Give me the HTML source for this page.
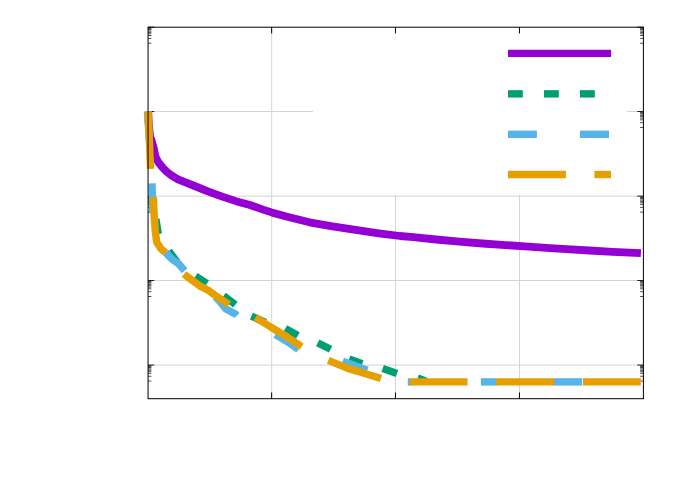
<!DOCTYPE html>
<html><head><meta charset="utf-8"><title>plot</title>
<style>html,body{margin:0;padding:0;background:#fff;font-family:"Liberation Sans",sans-serif}svg{position:absolute;left:0;top:0}</style></head>
<body>
<svg width="692" height="485" viewBox="0 0 692 485" style="display:block">
<rect width="692" height="485" fill="#fff"/>
<line x1="271.7" y1="27.2" x2="271.7" y2="398.7" stroke="#d4d4d4" stroke-width="1"/>
<line x1="395.5" y1="27.2" x2="395.5" y2="398.7" stroke="#d4d4d4" stroke-width="1"/>
<line x1="519.5" y1="27.2" x2="519.5" y2="398.7" stroke="#d4d4d4" stroke-width="1"/>
<line x1="148.05" y1="111.5" x2="643.4" y2="111.5" stroke="#d4d4d4" stroke-width="1"/>
<line x1="148.05" y1="196.15" x2="643.4" y2="196.15" stroke="#d4d4d4" stroke-width="1"/>
<line x1="148.05" y1="280.5" x2="643.4" y2="280.5" stroke="#d4d4d4" stroke-width="1"/>
<line x1="148.05" y1="365.05" x2="643.4" y2="365.05" stroke="#d4d4d4" stroke-width="1"/>
<rect x="313" y="28.2" width="314.2" height="166.3" fill="#fff"/>
<g stroke="#000" stroke-width="1" fill="none">
<line x1="271.65" y1="398.7" x2="271.65" y2="392.5"/>
<line x1="271.65" y1="27.2" x2="271.65" y2="33.4"/>
<line x1="395.45" y1="398.7" x2="395.45" y2="392.5"/>
<line x1="395.45" y1="27.2" x2="395.45" y2="33.4"/>
<line x1="519.45" y1="398.7" x2="519.45" y2="392.5"/>
<line x1="519.45" y1="27.2" x2="519.45" y2="33.4"/>
<line x1="148.05" y1="27.2" x2="154.25" y2="27.2" stroke-width="0.85"/>
<line x1="643.4" y1="27.2" x2="637.1999999999999" y2="27.2" stroke-width="0.85"/>
<line x1="148.05" y1="43.20" x2="151.35000000000002" y2="43.20" stroke-width="0.7"/>
<line x1="643.4" y1="43.20" x2="640.1" y2="43.20" stroke-width="0.7"/>
<line x1="148.05" y1="38.40" x2="151.35000000000002" y2="38.40" stroke-width="0.7"/>
<line x1="643.4" y1="38.40" x2="640.1" y2="38.40" stroke-width="0.7"/>
<line x1="148.05" y1="35.50" x2="151.35000000000002" y2="35.50" stroke-width="0.7"/>
<line x1="643.4" y1="35.50" x2="640.1" y2="35.50" stroke-width="0.7"/>
<line x1="148.05" y1="33.80" x2="151.35000000000002" y2="33.80" stroke-width="0.7"/>
<line x1="643.4" y1="33.80" x2="640.1" y2="33.80" stroke-width="0.7"/>
<line x1="148.05" y1="32.40" x2="151.35000000000002" y2="32.40" stroke-width="0.7"/>
<line x1="643.4" y1="32.40" x2="640.1" y2="32.40" stroke-width="0.7"/>
<line x1="148.05" y1="31.10" x2="151.35000000000002" y2="31.10" stroke-width="0.7"/>
<line x1="643.4" y1="31.10" x2="640.1" y2="31.10" stroke-width="0.7"/>
<line x1="148.05" y1="29.70" x2="151.35000000000002" y2="29.70" stroke-width="0.7"/>
<line x1="643.4" y1="29.70" x2="640.1" y2="29.70" stroke-width="0.7"/>
<line x1="148.05" y1="28.80" x2="151.35000000000002" y2="28.80" stroke-width="0.7"/>
<line x1="643.4" y1="28.80" x2="640.1" y2="28.80" stroke-width="0.7"/>
<line x1="148.05" y1="28.00" x2="151.35000000000002" y2="28.00" stroke-width="0.7"/>
<line x1="643.4" y1="28.00" x2="640.1" y2="28.00" stroke-width="0.7"/>
<line x1="148.05" y1="111.5" x2="154.25" y2="111.5" stroke-width="0.85"/>
<line x1="643.4" y1="111.5" x2="637.1999999999999" y2="111.5" stroke-width="0.85"/>
<line x1="148.05" y1="127.50" x2="151.35000000000002" y2="127.50" stroke-width="0.7"/>
<line x1="643.4" y1="127.50" x2="640.1" y2="127.50" stroke-width="0.7"/>
<line x1="148.05" y1="122.70" x2="151.35000000000002" y2="122.70" stroke-width="0.7"/>
<line x1="643.4" y1="122.70" x2="640.1" y2="122.70" stroke-width="0.7"/>
<line x1="148.05" y1="119.80" x2="151.35000000000002" y2="119.80" stroke-width="0.7"/>
<line x1="643.4" y1="119.80" x2="640.1" y2="119.80" stroke-width="0.7"/>
<line x1="148.05" y1="118.10" x2="151.35000000000002" y2="118.10" stroke-width="0.7"/>
<line x1="643.4" y1="118.10" x2="640.1" y2="118.10" stroke-width="0.7"/>
<line x1="148.05" y1="116.70" x2="151.35000000000002" y2="116.70" stroke-width="0.7"/>
<line x1="643.4" y1="116.70" x2="640.1" y2="116.70" stroke-width="0.7"/>
<line x1="148.05" y1="115.40" x2="151.35000000000002" y2="115.40" stroke-width="0.7"/>
<line x1="643.4" y1="115.40" x2="640.1" y2="115.40" stroke-width="0.7"/>
<line x1="148.05" y1="114.00" x2="151.35000000000002" y2="114.00" stroke-width="0.7"/>
<line x1="643.4" y1="114.00" x2="640.1" y2="114.00" stroke-width="0.7"/>
<line x1="148.05" y1="113.10" x2="151.35000000000002" y2="113.10" stroke-width="0.7"/>
<line x1="643.4" y1="113.10" x2="640.1" y2="113.10" stroke-width="0.7"/>
<line x1="148.05" y1="112.30" x2="151.35000000000002" y2="112.30" stroke-width="0.7"/>
<line x1="643.4" y1="112.30" x2="640.1" y2="112.30" stroke-width="0.7"/>
<line x1="148.05" y1="196.15" x2="154.25" y2="196.15" stroke-width="0.85"/>
<line x1="643.4" y1="196.15" x2="637.1999999999999" y2="196.15" stroke-width="0.85"/>
<line x1="148.05" y1="212.15" x2="151.35000000000002" y2="212.15" stroke-width="0.7"/>
<line x1="643.4" y1="212.15" x2="640.1" y2="212.15" stroke-width="0.7"/>
<line x1="148.05" y1="207.35" x2="151.35000000000002" y2="207.35" stroke-width="0.7"/>
<line x1="643.4" y1="207.35" x2="640.1" y2="207.35" stroke-width="0.7"/>
<line x1="148.05" y1="204.45" x2="151.35000000000002" y2="204.45" stroke-width="0.7"/>
<line x1="643.4" y1="204.45" x2="640.1" y2="204.45" stroke-width="0.7"/>
<line x1="148.05" y1="202.75" x2="151.35000000000002" y2="202.75" stroke-width="0.7"/>
<line x1="643.4" y1="202.75" x2="640.1" y2="202.75" stroke-width="0.7"/>
<line x1="148.05" y1="201.35" x2="151.35000000000002" y2="201.35" stroke-width="0.7"/>
<line x1="643.4" y1="201.35" x2="640.1" y2="201.35" stroke-width="0.7"/>
<line x1="148.05" y1="200.05" x2="151.35000000000002" y2="200.05" stroke-width="0.7"/>
<line x1="643.4" y1="200.05" x2="640.1" y2="200.05" stroke-width="0.7"/>
<line x1="148.05" y1="198.65" x2="151.35000000000002" y2="198.65" stroke-width="0.7"/>
<line x1="643.4" y1="198.65" x2="640.1" y2="198.65" stroke-width="0.7"/>
<line x1="148.05" y1="197.75" x2="151.35000000000002" y2="197.75" stroke-width="0.7"/>
<line x1="643.4" y1="197.75" x2="640.1" y2="197.75" stroke-width="0.7"/>
<line x1="148.05" y1="196.95" x2="151.35000000000002" y2="196.95" stroke-width="0.7"/>
<line x1="643.4" y1="196.95" x2="640.1" y2="196.95" stroke-width="0.7"/>
<line x1="148.05" y1="280.5" x2="154.25" y2="280.5" stroke-width="0.85"/>
<line x1="643.4" y1="280.5" x2="637.1999999999999" y2="280.5" stroke-width="0.85"/>
<line x1="148.05" y1="296.50" x2="151.35000000000002" y2="296.50" stroke-width="0.7"/>
<line x1="643.4" y1="296.50" x2="640.1" y2="296.50" stroke-width="0.7"/>
<line x1="148.05" y1="291.70" x2="151.35000000000002" y2="291.70" stroke-width="0.7"/>
<line x1="643.4" y1="291.70" x2="640.1" y2="291.70" stroke-width="0.7"/>
<line x1="148.05" y1="288.80" x2="151.35000000000002" y2="288.80" stroke-width="0.7"/>
<line x1="643.4" y1="288.80" x2="640.1" y2="288.80" stroke-width="0.7"/>
<line x1="148.05" y1="287.10" x2="151.35000000000002" y2="287.10" stroke-width="0.7"/>
<line x1="643.4" y1="287.10" x2="640.1" y2="287.10" stroke-width="0.7"/>
<line x1="148.05" y1="285.70" x2="151.35000000000002" y2="285.70" stroke-width="0.7"/>
<line x1="643.4" y1="285.70" x2="640.1" y2="285.70" stroke-width="0.7"/>
<line x1="148.05" y1="284.40" x2="151.35000000000002" y2="284.40" stroke-width="0.7"/>
<line x1="643.4" y1="284.40" x2="640.1" y2="284.40" stroke-width="0.7"/>
<line x1="148.05" y1="283.00" x2="151.35000000000002" y2="283.00" stroke-width="0.7"/>
<line x1="643.4" y1="283.00" x2="640.1" y2="283.00" stroke-width="0.7"/>
<line x1="148.05" y1="282.10" x2="151.35000000000002" y2="282.10" stroke-width="0.7"/>
<line x1="643.4" y1="282.10" x2="640.1" y2="282.10" stroke-width="0.7"/>
<line x1="148.05" y1="281.30" x2="151.35000000000002" y2="281.30" stroke-width="0.7"/>
<line x1="643.4" y1="281.30" x2="640.1" y2="281.30" stroke-width="0.7"/>
<line x1="148.05" y1="365.05" x2="154.25" y2="365.05" stroke-width="0.85"/>
<line x1="643.4" y1="365.05" x2="637.1999999999999" y2="365.05" stroke-width="0.85"/>
<line x1="148.05" y1="381.05" x2="151.35000000000002" y2="381.05" stroke-width="0.7"/>
<line x1="643.4" y1="381.05" x2="640.1" y2="381.05" stroke-width="0.7"/>
<line x1="148.05" y1="376.25" x2="151.35000000000002" y2="376.25" stroke-width="0.7"/>
<line x1="643.4" y1="376.25" x2="640.1" y2="376.25" stroke-width="0.7"/>
<line x1="148.05" y1="373.35" x2="151.35000000000002" y2="373.35" stroke-width="0.7"/>
<line x1="643.4" y1="373.35" x2="640.1" y2="373.35" stroke-width="0.7"/>
<line x1="148.05" y1="371.65" x2="151.35000000000002" y2="371.65" stroke-width="0.7"/>
<line x1="643.4" y1="371.65" x2="640.1" y2="371.65" stroke-width="0.7"/>
<line x1="148.05" y1="370.25" x2="151.35000000000002" y2="370.25" stroke-width="0.7"/>
<line x1="643.4" y1="370.25" x2="640.1" y2="370.25" stroke-width="0.7"/>
<line x1="148.05" y1="368.95" x2="151.35000000000002" y2="368.95" stroke-width="0.7"/>
<line x1="643.4" y1="368.95" x2="640.1" y2="368.95" stroke-width="0.7"/>
<line x1="148.05" y1="367.55" x2="151.35000000000002" y2="367.55" stroke-width="0.7"/>
<line x1="643.4" y1="367.55" x2="640.1" y2="367.55" stroke-width="0.7"/>
<line x1="148.05" y1="366.65" x2="151.35000000000002" y2="366.65" stroke-width="0.7"/>
<line x1="643.4" y1="366.65" x2="640.1" y2="366.65" stroke-width="0.7"/>
<line x1="148.05" y1="365.85" x2="151.35000000000002" y2="365.85" stroke-width="0.7"/>
<line x1="643.4" y1="365.85" x2="640.1" y2="365.85" stroke-width="0.7"/>
</g>
<g fill="none" stroke-linejoin="round" stroke-linecap="butt" stroke-width="7.4">
<polyline points="148.2,111.5 148.8,125.0 150.2,137.5 151.3,139.5 153.7,148.0 155.4,156.5 158.5,162.5 162.8,167.8 167.0,172.0 171.4,175.4 178.0,179.3 184.9,182.2 193.4,185.5 207.8,191.3 222.3,196.6 236.7,201.4 250.0,205.0 263.1,209.6 271.7,212.4 286.2,216.5 309.4,222.3 332.5,226.4 355.6,229.9 378.7,233.3 400.0,236.0 413.1,237.2 436.2,239.5 459.4,241.6 482.5,243.5 505.6,245.1 528.7,246.7 550.0,248.1 566.2,249.1 589.4,250.5 612.5,251.8 640.9,253.2" stroke="#9400d3" stroke-width="7.8"/>
<polyline points="155.9,219.0 158.3,234.0" stroke="#009e73"/>
<polyline points="168.8,251.0 177.4,262.5" stroke="#009e73"/>
<polyline points="195.6,276.2 206.9,283.7" stroke="#009e73"/>
<polyline points="223.6,295.8 235.4,304.6" stroke="#009e73"/>
<polyline points="251.4,316.2 265.4,322.4" stroke="#009e73"/>
<polyline points="285.3,328.5 297.9,335.5" stroke="#009e73"/>
<polyline points="317.7,342.9 330.6,349.3" stroke="#009e73"/>
<polyline points="349.1,359.1 362.3,363.7" stroke="#009e73"/>
<polyline points="382.7,368.5 397.0,373.4" stroke="#009e73"/>
<polyline points="417.6,378.0 426.0,381.2" stroke="#009e73"/>
<polyline points="147.5,111.5 149.4,140.5" stroke="#56b4e9"/>
<polyline points="152.0,183.4 152.9,212.4" stroke="#56b4e9"/>
<polyline points="165.6,252.4 171.7,258.9 178.9,264.0 182.5,268.3 184.7,270.8" stroke="#56b4e9"/>
<polyline points="215.5,297.0 219.8,301.5 225.6,308.7 235.7,314.2 237.0,315.5" stroke="#56b4e9"/>
<polyline points="275.3,334.6 290.0,343.4 298.5,349.4" stroke="#56b4e9"/>
<polyline points="342.7,361.1 367.3,370.1" stroke="#56b4e9"/>
<polyline points="407.8,381.9 411.0,381.9" stroke="#56b4e9"/>
<polyline points="480.9,381.9 497.0,381.9" stroke="#56b4e9"/>
<polyline points="553.5,381.9 582.2,381.9" stroke="#56b4e9"/>
<polyline points="148.1,111.5 150.6,168.8" stroke="#e69f00"/>
<polyline points="153.3,197.3 154.2,216.1 155.3,231.5 156.8,242.4 161.0,248.8 165.6,252.6" stroke="#e69f00"/>
<polyline points="184.0,274.1 193.4,281.3 200.6,286.4 207.8,290.0 215.0,295.2 228.9,304.6" stroke="#e69f00"/>
<polyline points="255.5,317.3 271.4,327.5 287.3,337.0 301.6,346.7" stroke="#e69f00"/>
<polyline points="328.3,360.4 347.8,368.4 362.3,372.7 381.0,378.5" stroke="#e69f00"/>
<polyline points="409.7,381.9 467.5,381.9" stroke="#e69f00"/>
<polyline points="496.2,381.9 554.1,381.9" stroke="#e69f00"/>
<polyline points="583.0,381.9 640.8,381.9" stroke="#e69f00"/>
<line x1="508" y1="53.35" x2="611" y2="53.35" stroke="#9400d3"/>
<line x1="508" y1="93.85" x2="522.8" y2="93.85" stroke="#009e73"/>
<line x1="544" y1="93.85" x2="558.8" y2="93.85" stroke="#009e73"/>
<line x1="580" y1="93.85" x2="594.8" y2="93.85" stroke="#009e73"/>
<line x1="508" y1="134.3" x2="536.9" y2="134.3" stroke="#56b4e9"/>
<line x1="580" y1="134.3" x2="609" y2="134.3" stroke="#56b4e9"/>
<line x1="508" y1="174.5" x2="565.9" y2="174.5" stroke="#e69f00"/>
<line x1="594.4" y1="174.5" x2="611" y2="174.5" stroke="#e69f00"/>
</g>
<rect x="148.05" y="27.2" width="495.34999999999997" height="371.5" fill="none" stroke="#000" stroke-width="1"/>
</svg>
</body></html>
